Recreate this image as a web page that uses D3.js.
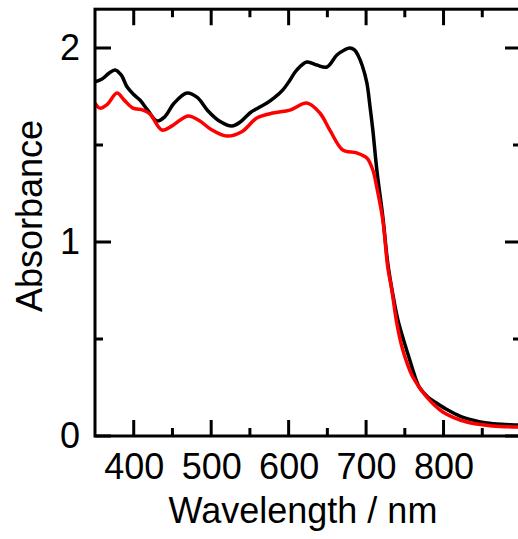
<!DOCTYPE html>
<html><head><meta charset="utf-8">
<script src="https://cdn.jsdelivr.net/npm/d3@7"></script>
<style>body{margin:0;background:#fff}</style>
</head><body>
<svg id="c" width="518" height="539" style="display:block"></svg>
<script>
// Data
const wlBlack  = [350,359,368,375.8,384,391.3,400,408,418,430,440,452,468.7,482,496,510,526.8,538,550,560,572,582,592.6,601,610.6,623.5,636.5,649.4,662.3,672,679,685,689.4,695,701,705,708.7,713.9,721.6,728,734.5,741,748,755,762,769,780,791,805,821,838,856,875,894.5,900];
const absBlack = [1.825,1.84,1.87,1.887,1.86,1.80,1.76,1.732,1.68,1.624,1.645,1.715,1.768,1.745,1.675,1.625,1.598,1.62,1.665,1.69,1.716,1.745,1.784,1.83,1.887,1.928,1.912,1.902,1.964,1.99,2.0,1.99,1.964,1.91,1.82,1.70,1.577,1.37,1.13,0.89,0.73,0.60,0.50,0.41,0.32,0.25,0.20,0.17,0.135,0.103,0.082,0.067,0.06,0.057,0.055];
const wlRed    = [350,356.5,366,378.4,388,399,412,421,436.5,450,470,485,500,520.3,540,559,579.7,601.6,623.5,640.3,653.2,670,688,701,708.7,713.9,721.6,728,733.2,739.7,747.4,760.3,778.4,799,830,863.5,894.5,900];
const absRed   = [1.716,1.69,1.71,1.768,1.73,1.69,1.68,1.66,1.577,1.60,1.65,1.625,1.58,1.546,1.57,1.639,1.665,1.68,1.716,1.665,1.577,1.474,1.459,1.433,1.371,1.28,1.113,0.87,0.753,0.58,0.443,0.304,0.20,0.124,0.072,0.052,0.046,0.045];
const xMajor = [400,500,600,700,800,900];
const xMinor = [450,550,650,750,850];
const xLabels = [400,500,600,700,800];
const yMajor = [0,1,2];
const yMinor = [0.5,1.5];
const xTitle = "Wavelength / nm";
const yTitle = "Absorbance";

const svg = d3.select("#c");
const L = 95, R = 521, T = 436 - 2.2*194, B = 436;
const x = d3.scaleLinear().domain([350,900]).range([L,R]);
const y = d3.scaleLinear().domain([0,2.2]).range([B,T]);
const font = "'Liberation Sans', Arial, Helvetica, sans-serif";

svg.append("defs").append("clipPath").attr("id","plotclip").append("rect")
  .attr("x",L).attr("y",T).attr("width",R-L).attr("height",B-T);

const line = d3.line().x(d=>x(d[0])).y(d=>y(d[1])).curve(d3.curveCatmullRom.alpha(0.5));
const curves = svg.append("g").attr("clip-path","url(#plotclip)");
curves.append("path").datum(wlBlack.map((w,i)=>[w,absBlack[i]]))
  .attr("d",line).attr("fill","none").attr("stroke","#000").attr("stroke-width",3.5).attr("stroke-linejoin","round");
curves.append("path").datum(wlRed.map((w,i)=>[w,absRed[i]]))
  .attr("d",line).attr("fill","none").attr("stroke","#ff0000").attr("stroke-width",3.5).attr("stroke-linejoin","round");

// frame
svg.append("rect").attr("x",L).attr("y",T).attr("width",R-L).attr("height",B-T)
  .attr("fill","none").attr("stroke","#000").attr("stroke-width",3);

// tick marks (inward on all four sides), positioned by the scales, as one path
const p = d3.path();
xMajor.forEach(v=>{ p.moveTo(x(v),B); p.lineTo(x(v),B-16); p.moveTo(x(v),T); p.lineTo(x(v),T+16); });
xMinor.forEach(v=>{ p.moveTo(x(v),B); p.lineTo(x(v),B-8);  p.moveTo(x(v),T); p.lineTo(x(v),T+8); });
yMajor.forEach(v=>{ p.moveTo(L,y(v)); p.lineTo(L+16,y(v)); p.moveTo(R,y(v)); p.lineTo(R-16,y(v)); });
yMinor.forEach(v=>{ p.moveTo(L,y(v)); p.lineTo(L+8,y(v));  p.moveTo(R,y(v)); p.lineTo(R-8,y(v)); });
svg.append("path").attr("d",p.toString()).attr("fill","none").attr("stroke","#000").attr("stroke-width",3);

// tick labels via axes
function styleAxis(sel){
  sel.select(".domain").remove();
  sel.selectAll(".tick line").remove();
  sel.selectAll(".tick text").attr("fill","#000").style("font-family",font).style("font-size","36px");
}
svg.append("g").attr("transform",`translate(0,${B})`)
  .call(d3.axisBottom(x).tickValues(xLabels).tickSize(0).tickPadding(17.5).tickFormat(d3.format("d")))
  .call(styleAxis);
svg.append("g").attr("transform",`translate(${L},0)`)
  .call(d3.axisLeft(y).tickValues(yMajor).tickSize(0).tickPadding(15).tickFormat(d3.format("d")))
  .call(styleAxis);

svg.append("text").attr("x",303).attr("y",523).attr("text-anchor","middle").attr("fill","#000")
  .style("font-family",font).style("font-size","36px").text(xTitle);
svg.append("text").attr("transform","translate(42,216) rotate(-90)").attr("text-anchor","middle").attr("fill","#000")
  .style("font-family",font).style("font-size","36px").text(yTitle);
</script>
</body></html>
